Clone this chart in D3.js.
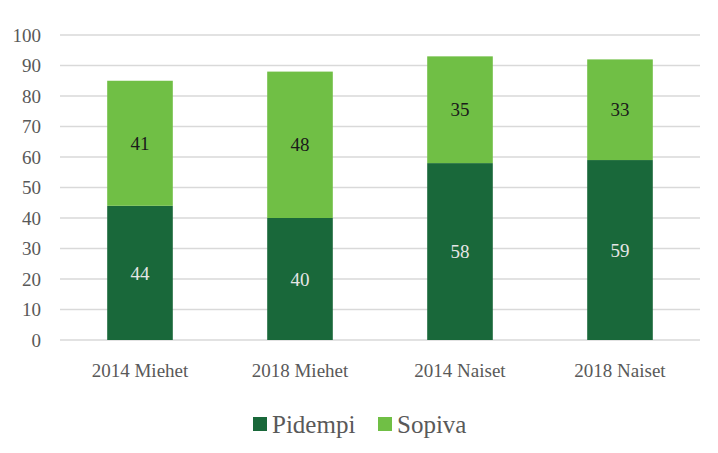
<!DOCTYPE html>
<html><head><meta charset="utf-8">
<script src="https://cdn.jsdelivr.net/npm/d3@7"></script>
<style>body{margin:0;background:#fff}</style>
</head><body>
<svg id="c" width="718" height="453"></svg>
<script>
const categories = ["2014 Miehet","2018 Miehet","2014 Naiset","2018 Naiset"];
const pidempi = [44,40,58,59];
const sopiva = [41,48,35,33];
const seriesNames = ["Pidempi","Sopiva"];
const yTicks = [0,10,20,30,40,50,60,70,80,90,100];
const colors = ["#19683a","#70bf45"];

const svg = d3.select("#c");
const font = "'Liberation Serif', serif";
const m = {l:60, r:700, t:35, b:340};
const x = d3.scaleBand().domain(categories).range([m.l, m.r]).paddingInner(0.59).paddingOuter(0.295);
const y = d3.scaleLinear().domain([0,100]).range([m.b, m.t]);

svg.append("g").selectAll("line").data(yTicks).join("line")
  .attr("x1", m.l).attr("x2", m.r).attr("y1", d=>y(d)).attr("y2", d=>y(d))
  .attr("stroke", "#d9d9d9").attr("stroke-width", 1.3);

svg.append("g").selectAll("text").data(yTicks).join("text")
  .attr("x", 41).attr("y", d=>y(d)).attr("dy","0.35em").attr("text-anchor","end")
  .attr("font-family", font).attr("font-size", 19).attr("fill","#595959").text(d=>d);

const stack = categories.map((c,i)=>({c, vals:[pidempi[i], sopiva[i]]}));
stack.forEach(s=>{
  let base = 0;
  s.vals.forEach((v,k)=>{
    svg.append("rect").attr("x", x(s.c)).attr("width", x.bandwidth())
      .attr("y", y(base+v)).attr("height", y(base)-y(base+v)).attr("fill", colors[k]);
    svg.append("text").attr("x", x(s.c)+x.bandwidth()/2).attr("y", y(base+v/2)).attr("dy","0.35em")
      .attr("text-anchor","middle").attr("font-family", font).attr("font-size", 19)
      .attr("fill", k===0 ? "#e6e6e6" : "#1a1a1a").text(v);
    base += v;
  });
});

svg.append("g").selectAll("text").data(categories).join("text")
  .attr("x", d=>x(d)+x.bandwidth()/2).attr("y", 370).attr("dy","0.35em").attr("text-anchor","middle")
  .attr("font-family", font).attr("font-size", 19).attr("fill","#595959").text(d=>d);

const leg = [{n:seriesNames[0], x:253}, {n:seriesNames[1], x:378}];
leg.forEach((l,i)=>{
  svg.append("rect").attr("x", l.x).attr("y", 417).attr("width", 14).attr("height", 14).attr("fill", colors[i]);
  svg.append("text").attr("x", l.x+19).attr("y", 424).attr("dy","0.35em")
    .attr("font-family", font).attr("font-size", 25).attr("fill","#595959").text(l.n);
});
</script>
</body></html>
